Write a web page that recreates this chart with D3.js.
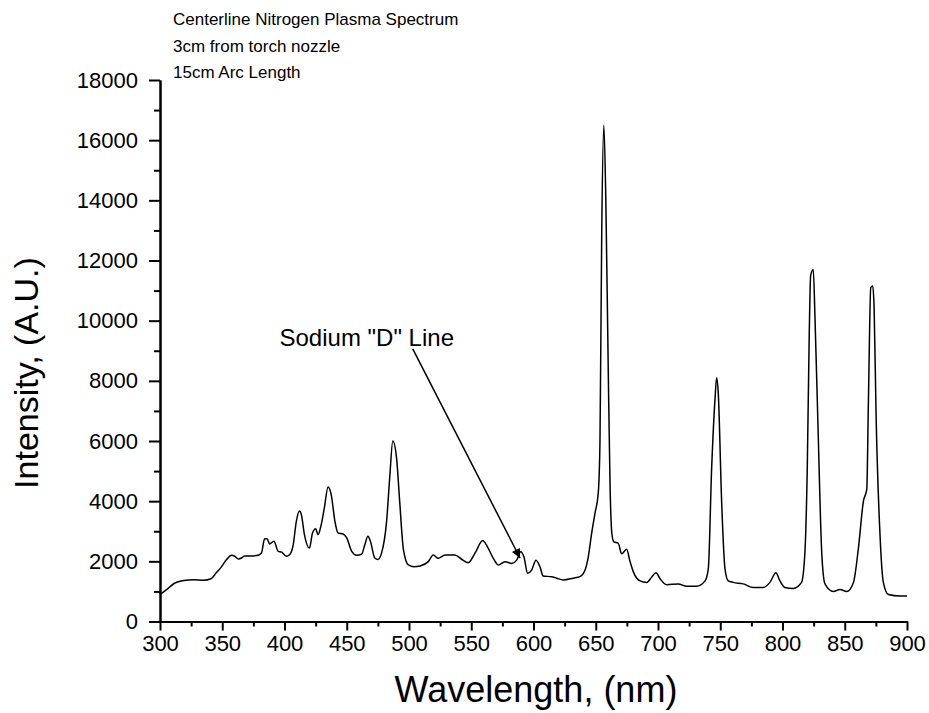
<!DOCTYPE html>
<html>
<head>
<meta charset="utf-8">
<script src="https://cdn.jsdelivr.net/npm/d3@7/dist/d3.min.js"></script>
<style>
  html, body { margin: 0; padding: 0; background: #fff; }
  svg { display: block; font-family: "Liberation Sans", Arial, sans-serif; }
</style>
</head>
<body>
<svg id="chart" width="929" height="713"></svg>
<script>
// ---- data ----
const wavelength = [300,305,312,319,327,335,341,345,349,353.5,357.5,360,363,365.5,368,372,377.5,381.5,384,386,388,391.5,395,397.5,401.5,404,407,409.5,412,413.5,416,420,422.5,425,427,429.5,432,435,437.5,440.5,443,447,450,454,458,462,464.5,467,469,472.5,475,478,482,484.5,487,490,492.5,495.5,499.5,504,508.8,515.5,519.5,523.5,528.9,536.9,542.3,547.6,553,559.2,562.9,567.7,571.7,577.1,582.5,586.5,589.7,592.3,595.3,598.5,602,605.2,607.8,614.6,618.6,623.9,631.9,637.3,641.4,644,646.7,649.4,652,653.4,654.8,656.5,658.1,660,661.5,663,664.5,668.1,670.8,674.8,677.5,680.2,685.6,691,695,698.4,701.7,707,716.3,723,731,737.8,740.4,743.1,745.8,747.1,748.4,751.1,753.8,756.4,760.4,768.5,776.5,784.5,789.9,794.7,797.9,801.9,808.6,815.3,818,819.9,821.5,822.6,824.7,826.1,828.7,831.5,834.1,840.8,846.2,851.6,857,861,865,867.7,869,870.9,872.5,873.6,875.2,878.3,881,885,894.4,900];
const intensity = [900,1050,1280,1360,1390,1370,1420,1610,1800,2060,2200,2170,2080,2110,2180,2180,2190,2280,2750,2750,2580,2670,2330,2310,2170,2220,2550,3330,3670,3560,2890,2440,2940,3080,2890,3220,3780,4470,4220,3330,2940,2910,2780,2330,2200,2240,2550,2830,2670,2110,2060,2280,3330,4780,6000,5440,4000,2400,1880,1820,1845,1990,2210,2100,2210,2210,2070,1955,2270,2690,2490,2100,1880,1990,1930,2040,2320,2150,1600,1710,2040,1820,1510,1490,1440,1380,1440,1490,1710,2150,2930,3600,4260,6000,12900,16500,14000,8470,4500,2900,2650,2600,2250,2400,2000,1650,1350,1300,1480,1620,1420,1220,1250,1170,1170,1350,1750,5100,7400,8100,7600,4000,1750,1350,1300,1250,1130,1130,1300,1620,1350,1130,1100,1300,2300,5100,9600,11500,11700,10100,6200,2300,1250,1000,1060,1000,1300,2450,4000,4400,7300,11100,11150,10400,6800,2900,1300,900,850,850];

const xTicks = [300,350,400,450,500,550,600,650,700,750,800,850,900];
const xMinorTicks = [325,375,425,475,525,575,625,675,725,775,825,875];
const yTicks = [0,2000,4000,6000,8000,10000,12000,14000,16000,18000];
const yMinorTicks = [1000,3000,5000,7000,9000,11000,13000,15000,17000];

const titleLines = ["Centerline Nitrogen Plasma Spectrum", "3cm from torch nozzle", "15cm Arc Length"];
const xLabel = "Wavelength, (nm)";
const yLabel = "Intensity, (A.U.)";
const annotationText = "Sodium \"D\" Line";
const annotationTextAt = [396, 9170];   // [nm, intensity]
const arrowFrom = [503, 9060];
const arrowTo = [589.2, 2110];

// ---- layout ----
const svg = d3.select("#chart");
const x = d3.scaleLinear().domain([300, 900]).range([160, 907]);
const y = d3.scaleLinear().domain([0, 18000]).range([621.5, 80]);

// axes
const xAxis = svg.append("g").attr("transform", `translate(0,${y(0)})`)
  .call(d3.axisBottom(x).tickValues(xTicks).tickSize(9).tickSizeOuter(0).tickPadding(5).tickFormat(d3.format("d")));
const xMinor = svg.append("g").attr("transform", `translate(0,${y(0)})`)
  .call(d3.axisBottom(x).tickValues(xMinorTicks).tickSize(5).tickSizeOuter(0).tickFormat(""));
const yAxis = svg.append("g").attr("transform", `translate(${x(300)},0)`)
  .call(d3.axisLeft(y).tickValues(yTicks).tickSize(11).tickSizeOuter(0).tickPadding(11).tickFormat(d3.format("d")));
const yMinor = svg.append("g").attr("transform", `translate(${x(300)},0)`)
  .call(d3.axisLeft(y).tickValues(yMinorTicks).tickSize(6).tickSizeOuter(0).tickFormat(""));

[xAxis, xMinor, yAxis, yMinor].forEach(g => {
  g.selectAll("path.domain").attr("stroke", "#000").attr("stroke-width", 2);
  g.selectAll(".tick line").attr("stroke", "#000").attr("stroke-width", 2);
  g.selectAll(".tick text").attr("fill", "#000").style("font-size", "22px")
    .style("font-family", "'Liberation Sans', Arial, sans-serif");
});
xAxis.selectAll(".tick text").attr("dy", "0.72em");

// spectrum line
const pts = wavelength.map((w, i) => [w, intensity[i]]);
const lineGen = d3.line().x(d => x(d[0])).y(d => y(d[1])).curve(d3.curveMonotoneX);
svg.append("path")
  .datum(pts)
  .attr("fill", "none")
  .attr("stroke", "#000")
  .attr("stroke-width", 1.5)
  .attr("stroke-linejoin", "round")
  .attr("d", lineGen);

// titles
svg.selectAll("text.title").data(titleLines).enter().append("text")
  .attr("class", "title")
  .attr("x", 173)
  .attr("y", (d, i) => 25 + i * 26.5)
  .style("font-size", "17px")
  .attr("fill", "#000")
  .text(d => d);

// axis labels
svg.append("text")
  .attr("x", 536)
  .attr("y", 702)
  .attr("text-anchor", "middle")
  .style("font-size", "36px")
  .attr("fill", "#000")
  .text(xLabel);

svg.append("text")
  .attr("transform", `translate(38,373) rotate(-90)`)
  .attr("text-anchor", "middle")
  .style("font-size", "34px")
  .attr("fill", "#000")
  .text(yLabel);

// annotation
svg.append("defs").append("marker")
  .attr("id", "arrowhead")
  .attr("viewBox", "0 0 10 10")
  .attr("refX", 10).attr("refY", 5)
  .attr("markerWidth", 13).attr("markerHeight", 9)
  .attr("markerUnits", "userSpaceOnUse")
  .attr("orient", "auto")
  .append("path").attr("d", "M0,0 L10,5 L0,10 z").attr("fill", "#000");

svg.append("line")
  .attr("x1", x(arrowFrom[0])).attr("y1", y(arrowFrom[1]))
  .attr("x2", x(arrowTo[0])).attr("y2", y(arrowTo[1]))
  .attr("stroke", "#000").attr("stroke-width", 1.5)
  .attr("marker-end", "url(#arrowhead)");

svg.append("text")
  .attr("x", x(annotationTextAt[0]))
  .attr("y", y(annotationTextAt[1]))
  .style("font-size", "24px")
  .attr("fill", "#000")
  .text(annotationText);
</script>
</body>
</html>
